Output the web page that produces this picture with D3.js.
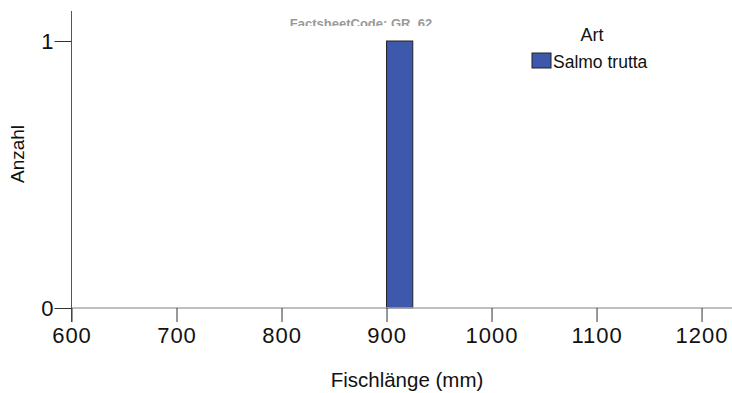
<!DOCTYPE html>
<html><head><meta charset="utf-8">
<script src="https://cdn.jsdelivr.net/npm/d3@7"></script>
<style>body{margin:0;background:#fff}svg{display:block;font-family:"Liberation Sans",Arial,sans-serif}</style>
</head><body>
<svg id="c" width="732" height="393"></svg>
<script>
const binStarts = [900];
const binWidth = 25;
const counts = [1];
const series = ["Salmo trutta"];
const xTicks = [600, 700, 800, 900, 1000, 1100, 1200];
const yTicks = [0, 1];

const svg = d3.select("#c");
const x = d3.scaleLinear().domain([600, 1229]).range([71.5, 732]);
const y = d3.scaleLinear().domain([0, 1]).range([308, 41]);

// clip for the code label
svg.append("defs").append("clipPath").attr("id", "codeclip")
  .append("rect").attr("x", 0).attr("y", 0).attr("width", 732).attr("height", 26);

// bars
svg.selectAll("rect.bar").data(binStarts).join("rect").attr("class","bar")
  .attr("x", d => x(d)).attr("y", (d,i) => y(counts[i]))
  .attr("width", d => x(d + binWidth) - x(d)).attr("height", (d,i) => y(0) - y(counts[i]))
  .attr("fill", "#3e58ac").attr("stroke", "#222").attr("stroke-width", 1);

// x axis baseline
svg.append("line").attr("x1", x(600)).attr("x2", 732).attr("y1", y(0)).attr("y2", y(0))
  .attr("stroke", "#aaa").attr("stroke-width", 1.5);
// y axis line
svg.append("line").attr("x1", x(600)).attr("x2", x(600)).attr("y1", 11).attr("y2", 322)
  .attr("stroke", "#555").attr("stroke-width", 1);

// x axis
const xa = svg.append("g").attr("transform", `translate(0,${y(0)})`)
  .call(d3.axisBottom(x).tickValues(xTicks).tickSize(14).tickPadding(5).tickFormat(d3.format("d")));
xa.select(".domain").remove();
xa.selectAll("line").attr("stroke", "#333");
xa.selectAll("text").attr("font-size", 22).attr("fill", "#111").attr("letter-spacing", 1)
  .attr("font-family", "Liberation Sans, Arial, sans-serif");

// y axis
const ya = svg.append("g").attr("transform", `translate(${x(600)},0)`)
  .call(d3.axisLeft(y).tickValues(yTicks).tickSize(17).tickPadding(1).tickFormat(d3.format("d")));
ya.select(".domain").remove();
ya.selectAll("line").attr("stroke", "#333");
ya.selectAll("text").attr("font-size", 22).attr("fill", "#111").attr("font-family", "Liberation Sans, Arial, sans-serif");

// axis titles
svg.append("text").attr("x", 407).attr("y", 387).attr("text-anchor", "middle")
  .attr("font-size", 20.5).attr("fill", "#111").text("Fischlänge (mm)");
svg.append("text").attr("transform", "translate(24,154) rotate(-90)").attr("text-anchor", "middle")
  .attr("font-size", 19).attr("fill", "#111").text("Anzahl");

// code label
svg.append("text").attr("x", 361).attr("y", 28).attr("text-anchor", "middle")
  .attr("clip-path", "url(#codeclip)")
  .attr("font-size", 13).attr("font-weight", "bold").attr("fill", "#999").text("FactsheetCode: GR_62");

// legend
svg.append("text").attr("x", 592).attr("y", 41).attr("text-anchor", "middle")
  .attr("font-size", 18).attr("fill", "#111").text("Art");
const lg = svg.selectAll("g.leg").data(series).join("g").attr("class","leg");
lg.append("rect").attr("x", 532).attr("y", 53).attr("width", 19).attr("height", 15)
  .attr("fill", "#3e58ac").attr("stroke", "#222").attr("stroke-width", 1);
lg.append("text").attr("x", 553).attr("y", 68).attr("font-size", 17.5).attr("fill", "#111").text(d => d);
</script>
</body></html>
